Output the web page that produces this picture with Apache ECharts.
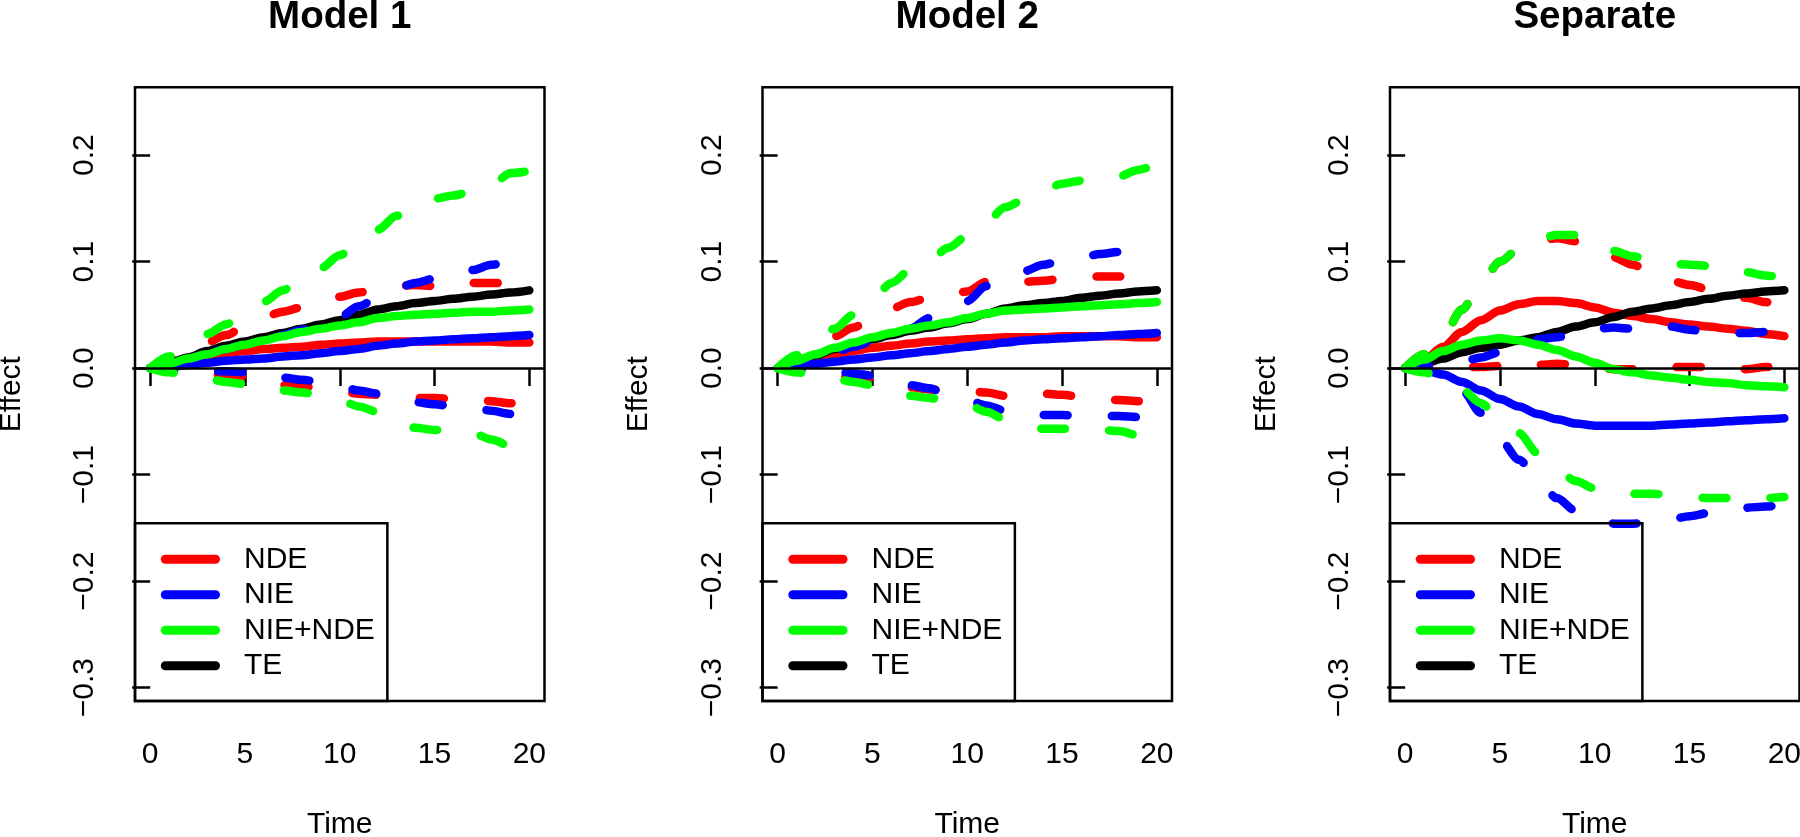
<!DOCTYPE html>
<html>
<head>
<meta charset="utf-8">
<script src="https://cdn.jsdelivr.net/npm/echarts@6/dist/echarts.min.js"></script>
<style>
html,body{margin:0;padding:0;background:#fff;}
#chart{width:1800px;height:837px;}
</style>
</head>
<body>
<div id="chart"></div>
<script>
// ---------------- data ----------------
const time = [0,1,2,3,4,5,6,7,8,9,10,11,12,13,14,15,16,17,18,19,20];
const panelTitles = ['Model 1','Model 2','Separate'];
const legendNames = ['NDE','NIE','NIE+NDE','TE'];
const xTicks = [0,5,10,15,20];
const yTicks = [-0.3,-0.2,-0.1,0,0.1,0.2];

// Model 1
const m1_NDE    = [0,.004,.008,.011,.014,.016,.018,.019,.020,.022,.023,.024,.025,.025,.025,.025,.025,.025,.025,.024,.024];
const m1_NDE_up = [0,.009,.017,.024,.031,.039,.048,.053,.057,.062,.067,.071,.074,.077,.078,.077,.078,.080,.080,.080,.080];
const m1_NDE_lo = [0,-.002,-.003,-.005,-.007,-.008,-.012,-.016,-.017,-.019,-.022,-.024,-.025,-.027,-.028,-.028,-.029,-.030,-.031,-.033,-.034];
const m1_NIE    = [0,.001,.003,.005,.007,.008,.009,.011,.012,.014,.016,.018,.021,.023,.025,.026,.027,.028,.029,.030,.031];
const m1_NIE_up = [0,.005,.009,.014,.018,.022,.026,.031,.036,.042,.048,.058,.066,.075,.080,.084,.087,.092,.097,.100,.102];
const m1_NIE_lo = [0,-.001,-.002,-.003,-.003,-.004,-.006,-.009,-.011,-.013,-.017,-.021,-.024,-.029,-.032,-.034,-.036,-.037,-.040,-.043,-.045];
const m1_SUM    = [0,.004,.009,.013,.018,.022,.026,.030,.034,.037,.040,.043,.047,.049,.050,.051,.052,.053,.053,.054,.055];
const m1_SUM_up = [0,.011,.022,.032,.041,.053,.0625,.073,.085,.094,.106,.118,.130,.143,.152,.159,.162,.166,.172,.183,.185];
const m1_SUM_lo = [0,-.004,-.007,-.010,-.013,-.015,-.018,-.021,-.023,-.025,-.030,-.036,-.041,-.050,-.056,-.058,-.059,-.061,-.067,-.073,-.076];
const m1_TE     = [0,.005,.010,.016,.021,.025,.029,.033,.037,.041,.045,.050,.055,.058,.061,.063,.065,.067,.069,.071,.073];

// Model 2
const m2_NDE    = [0,.005,.009,.013,.016,.019,.021,.023,.025,.026,.027,.028,.029,.029,.029,.030,.030,.030,.030,.029,.029];
const m2_NDE_up = [0,.010,.020,.030,.038,.048,.056,.062,.066,.068,.072,.081,.081,.081,.082,.084,.085,.086,.086,.086,.086];
const m2_NDE_lo = [0,-.002,-.004,-.007,-.009,-.010,-.015,-.018,-.020,-.021,-.021,-.023,-.026,-.025,-.024,-.025,-.027,-.029,-.030,-.031,-.031];
const m2_NIE    = [0,.002,.004,.006,.008,.010,.012,.014,.016,.018,.020,.022,.024,.026,.027,.028,.029,.030,.031,.032,.033];
const m2_NIE_up = [0,.005,.010,.015,.020,.025,.030,.037,.047,.055,.063,.077,.084,.091,.097,.101,.104,.107,.109,.110,.111];
const m2_NIE_lo = [0,-.001,-.002,-.003,-.005,-.007,-.011,-.016,-.019,-.025,-.030,-.035,-.040,-.043,-.044,-.044,-.045,-.045,-.045,-.046,-.046];
const m2_SUM    = [0,.007,.013,.019,.024,.029,.033,.037,.040,.043,.047,.051,.054,.055,.056,.057,.058,.059,.060,.061,.062];
const m2_SUM_up = [0,.012,.024,.037,.050,.064,.080,.092,.101,.113,.124,.137,.151,.158,.167,.173,.176,.178,.180,.186,.192];
const m2_SUM_lo = [0,-.004,-.007,-.010,-.013,-.016,-.022,-.026,-.028,-.031,-.034,-.041,-.048,-.053,-.057,-.057,-.057,-.058,-.059,-.063,-.066];
const m2_TE     = [0,.006,.012,.018,.023,.027,.031,.035,.038,.042,.046,.051,.056,.059,.061,.063,.066,.068,.070,.072,.073];

// Separate
const s_NDE    = [0,.008,.020,.034,.045,.054,.060,.063,.063,.061,.057,.052,.049,.046,.043,.041,.039,.037,.035,.032,.030];
const s_NDE_up = [0,.013,.030,.055,.080,.100,.112,.119,.122,.119,.113,.104,.097,.090,.082,.078,.074,.070,.066,.062,.059];
const s_NDE_lo = [0,.000,.000,.001,.001,.002,.003,.003,.004,.003,.001,-.001,-.001,.000,.001,.001,.001,.000,-.001,.001,.002];
const s_NIE    = [0,-.002,-.006,-.013,-.021,-.029,-.036,-.043,-.048,-.052,-.054,-.054,-.054,-.054,-.053,-.052,-.051,-.050,-.049,-.048,-.047];
const s_NIE_up = [0,.002,.004,.006,.010,.015,.021,.027,.029,.033,.037,.038,.037,.038,.039,.036,.034,.033,.033,.034,.034];
const s_NIE_lo = [0,-.003,-.010,-.021,-.042,-.067,-.086,-.104,-.122,-.134,-.141,-.146,-.146,-.145,-.142,-.139,-.136,-.133,-.131,-.130,-.128];
const s_SUM    = [0,.008,.016,.022,.026,.028,.026,.022,.017,.011,.005,-.001,-.004,-.007,-.009,-.011,-.013,-.014,-.016,-.017,-.018];
const s_SUM_up = [0,.013,.030,.055,.080,.100,.112,.121,.125,.125,.119,.110,.105,.101,.098,.097,.096,.093,.090,.087,.084];
const s_SUM_lo = [0,-.004,-.010,-.020,-.033,-.048,-.061,-.080,-.095,-.106,-.113,-.117,-.118,-.118,-.119,-.121,-.122,-.122,-.122,-.122,-.121];
const s_TE     = [0,.004,.009,.015,.019,.022,.026,.029,.034,.039,.043,.048,.053,.056,.059,.062,.065,.068,.070,.072,.073];

// ---------------- layout / style ----------------
const FONT = 'Liberation Sans, Arial, Helvetica, sans-serif';
const FS = 30;
const COL = {NDE:'#FF0000', NIE:'#0000FF', SUM:'#00FF00', TE:'#000000'};
const DASH = [24, 44];
const LW = 8.5;
const panelLeft = [135, 762.5, 1390];
const panelW = 409.5, panelTop = 87.3, panelH = 613.7;
const xMin = -0.8, xMax = 20.8, yMin = -0.3125, yMax = 0.2636;

const panels = [
  {NDE:m1_NDE, NDE_up:m1_NDE_up, NDE_lo:m1_NDE_lo, NIE:m1_NIE, NIE_up:m1_NIE_up, NIE_lo:m1_NIE_lo, SUM:m1_SUM, SUM_up:m1_SUM_up, SUM_lo:m1_SUM_lo, TE:m1_TE},
  {NDE:m2_NDE, NDE_up:m2_NDE_up, NDE_lo:m2_NDE_lo, NIE:m2_NIE, NIE_up:m2_NIE_up, NIE_lo:m2_NIE_lo, SUM:m2_SUM, SUM_up:m2_SUM_up, SUM_lo:m2_SUM_lo, TE:m2_TE},
  {NDE:s_NDE, NDE_up:s_NDE_up, NDE_lo:s_NDE_lo, NIE:s_NIE, NIE_up:s_NIE_up, NIE_lo:s_NIE_lo, SUM:s_SUM, SUM_up:s_SUM_up, SUM_lo:s_SUM_lo, TE:s_TE}
];

function pairs(arr){ return time.map((t,i)=>[t, arr[i]]); }
function fmtY(v){ return (v < 0 ? '\u2212' : '') + Math.abs(v).toFixed(1); }

const grid = [], xAxis = [], yAxis = [], series = [], title = [], legend = [];

panels.forEach((p, k) => {
  grid.push({left: panelLeft[k], top: panelTop, width: panelW, height: panelH,
    show: true, borderColor: '#000', borderWidth: 2.5, backgroundColor: 'transparent',
    containLabel: false, outerBoundsMode: 'none'});
  xAxis.push({gridIndex: k, type: 'value', min: xMin, max: xMax,
    axisLine: {show: false}, splitLine: {show: false},
    axisTick: {show: true, customValues: xTicks, length: 18, lineStyle: {color: '#000', width: 2.5}},
    axisLabel: {show: true, customValues: xTicks, margin: 39, fontSize: FS, color: '#000', fontFamily: FONT},
    name: 'Time', nameLocation: 'middle', nameGap: 109, nameMoveOverlap: false,
    nameTextStyle: {fontSize: FS, color: '#000', fontFamily: FONT}});
  yAxis.push({gridIndex: k, type: 'value', min: yMin, max: yMax,
    axisLine: {show: false}, splitLine: {show: false},
    axisTick: {show: true, customValues: yTicks, length: 18, lineStyle: {color: '#000', width: 2.5}},
    axisLabel: {show: true, customValues: yTicks, rotate: 90, margin: 35, fontSize: FS, color: '#000', fontFamily: FONT, formatter: fmtY},
    name: 'Effect', nameLocation: 'middle', nameGap: 108.5, nameMoveOverlap: false,
    nameTextStyle: {fontSize: FS, color: '#000', fontFamily: FONT}});
  title.push({text: panelTitles[k], left: panelLeft[k] + panelW / 2, top: -2, padding: 0, textAlign: 'center',
    textStyle: {fontSize: 38.5, fontWeight: 'bold', color: '#000', fontFamily: FONT}});
  legend.push({show: true, orient: 'vertical', left: panelLeft[k], top: 523.3,
    data: legendNames, selectedMode: false,
    itemWidth: 50.2, itemHeight: 8, itemGap: 5.5,
    padding: [21, 12.5, 20.2, 25.8],
    borderColor: '#000', borderWidth: 2.5, borderRadius: 0, backgroundColor: 'transparent',
    lineStyle: {width: 9, cap: 'round'},
    textStyle: {fontSize: FS, lineHeight: FS, color: '#000', fontFamily: FONT, padding: [0, 0, 0, 23.5]}});

  const defs = [
    ['NDE', p.NDE, COL.NDE, 'solid'], ['NDE upper', p.NDE_up, COL.NDE, DASH], ['NDE lower', p.NDE_lo, COL.NDE, DASH],
    ['TE', p.TE, COL.TE, 'solid'],
    ['NIE', p.NIE, COL.NIE, 'solid'], ['NIE upper', p.NIE_up, COL.NIE, DASH], ['NIE lower', p.NIE_lo, COL.NIE, DASH],
    ['NIE+NDE', p.SUM, COL.SUM, 'solid'], ['NIE+NDE upper', p.SUM_up, COL.SUM, DASH], ['NIE+NDE lower', p.SUM_lo, COL.SUM, DASH]
  ];
  defs.forEach((d, j) => {
    const s = {name: d[0], type: 'line', xAxisIndex: k, yAxisIndex: k, data: pairs(d[1]),
      symbol: 'none', showSymbol: false, smooth: 0.3, smoothMonotone: 'x', color: d[2],
      lineStyle: {color: d[2], width: LW, type: d[3], cap: 'round', join: 'round'},
      emphasis: {disabled: true}, silent: true, animation: false};
    if (j === defs.length - 1) {
      s.markLine = {silent: true, symbol: ['none', 'none'], label: {show: false}, animation: false,
        lineStyle: {color: '#000', width: 2.5, type: 'solid'}, emphasis: {disabled: true},
        data: [{yAxis: 0}]};
    }
    series.push(s);
  });
});

const chart = echarts.init(document.getElementById('chart'), null, {renderer: 'canvas'});
chart.setOption({backgroundColor: '#fff', animation: false, title, legend, grid, xAxis, yAxis, series});
</script>
</body>
</html>
